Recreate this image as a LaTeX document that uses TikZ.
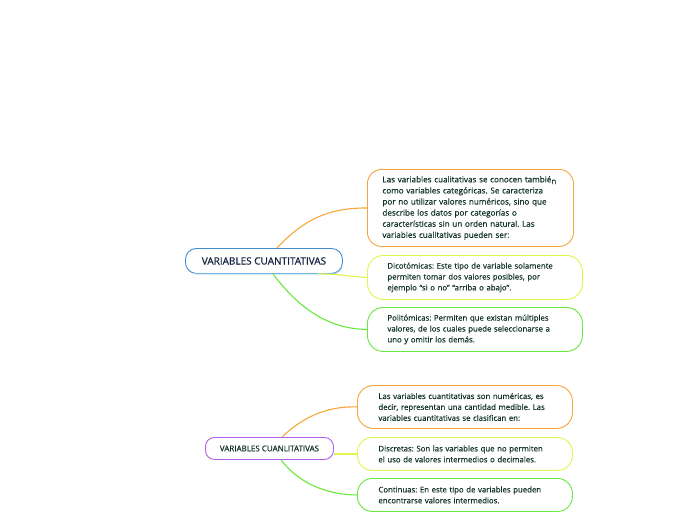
\documentclass[tikz,border=0pt]{standalone}
\usepackage{fontspec}
\setmainfont{Open Sans}
\frenchspacing
\definecolor{cOrange}{RGB}{248,166,58}
\definecolor{cYellow}{RGB}{226,244,78}
\definecolor{cGreen}{RGB}{104,232,60}
\definecolor{cBlue}{RGB}{62,142,212}
\definecolor{cLightBlue}{RGB}{150,200,238}
\definecolor{cPurple}{RGB}{180,92,240}
\definecolor{boxtext}{RGB}{16,50,36}
\definecolor{navy}{RGB}{22,36,66}
\tikzset{
  box/.style={draw, line width=0.9pt, anchor=north west, inner ysep=0pt, align=left,
    font=\fontsize{7.8}{10.9}\selectfont\addfontfeature{FakeBold=0.3}, text=boxtext, fill=white},
  rootbox/.style={draw, line width=0.9pt, anchor=north west, inner sep=0pt, fill=white},
  conn/.style={line width=1.1pt}
}
\begin{document}
\begin{tikzpicture}[x=1pt,y=-1pt]
\useasboundingbox[fill=white] (0,0) rectangle (696,520);
% top group
\node[rootbox, draw=cBlue, rounded corners=11pt, minimum width=157pt, minimum height=25pt,
  font=\fontsize{10}{11}\selectfont\addfontfeature{FakeBold=0.8}, text=navy] (r1) at (185,248) {VARIABLES CUANTITATIVAS};
\begin{scope}
  \clip ([xshift=10pt,yshift=-0.5pt]r1.south west) rectangle ([yshift=-8pt,xshift=1pt]r1.east);
  \draw[line width=0.9pt, cLightBlue, rounded corners=11pt] (r1.south west) rectangle (r1.north east);
\end{scope}
\node[box, draw=cOrange, rounded corners=14pt, inner xsep=15pt, text width=176pt, minimum height=77pt,
  font=\fontsize{8.1}{11.1}\selectfont\addfontfeature{FakeBold=0.3}] (b1) at (367,169)
{Las variables cualitativas se conocen tambié\raisebox{-1.8pt}{n}\\como variables categóricas. Se caracteriza\\por no utilizar valores numéricos, sino que\\describe los datos por categorías o\\características sin un orden natural. Las\\variables cualitativas pueden ser:};
\node[box, draw=cYellow, rounded corners=16pt, inner xsep=20pt, text width=175pt, minimum height=44pt] (b2) at (367,255)
{Dicotómicas: Este tipo de variable solamente\\permiten tomar dos valores posibles, por\\ejemplo “si o no” “arriba o abajo”.};
\node[box, draw=cGreen, rounded corners=16pt, inner xsep=20pt, text width=175pt, minimum height=44pt] (b3) at (367,307)
{Politómicas: Permiten que existan múltiples\\valores, de los cuales puede seleccionarse a\\uno y omitir los demás.};
\draw[conn, cOrange] ([xshift=92pt]r1.north west) .. controls (305,218) and (330,208) .. (b1.west);
\draw[conn, cYellow] ([xshift=133pt]r1.south west) .. controls (340,274) and (355,277) .. (b2.west);
\draw[conn, cGreen] ([xshift=88pt]r1.south west) .. controls (300,310) and (330,329) .. (b3.west);
% bottom group
\node[rootbox, draw=cPurple, rounded corners=9pt, minimum width=128pt, minimum height=22pt,
  font=\fontsize{8}{9}\selectfont\addfontfeature{FakeBold=0.4}, text=boxtext] (r2) at (205,437) {VARIABLES CUANLITATIVAS};
\node[box, draw=cOrange, rounded corners=16pt, inner xsep=21pt, text width=173pt, minimum height=43pt] (b4) at (357,385)
{Las variables cuantitativas son numéricas, es\\decir, representan una cantidad medible. Las\\variables cuantitativas se clasifican en:};
\node[box, draw=cYellow, rounded corners=15pt, inner xsep=21pt, text width=173pt, minimum height=33pt] (b5) at (357,437)
{Discretas: Son las variables que no permiten\\el uso de valores intermedios o decimales.};
\node[box, draw=cGreen, rounded corners=15pt, inner xsep=21pt, text width=173pt, minimum height=33pt] (b6) at (357,478)
{Continuas: En este tipo de variables pueden\\encontrarse valores intermedios.};
\draw[conn, cOrange] ([xshift=77pt]r2.north west) .. controls (305,415) and (330,406) .. (b4.west);
\draw[conn, cYellow] (r2.east |- b5.west) -- (b5.west);
\draw[conn, cGreen] ([xshift=76pt]r2.south west) .. controls (300,485) and (330,495) .. (b6.west);
\end{tikzpicture}
\end{document}
